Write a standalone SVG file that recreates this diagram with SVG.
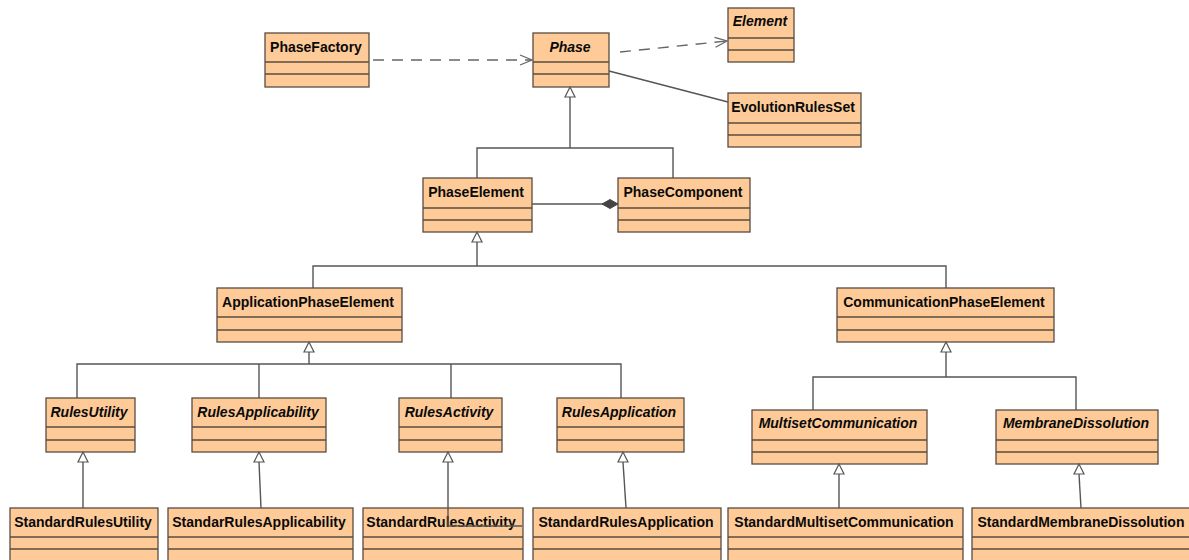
<svg xmlns="http://www.w3.org/2000/svg" width="1189" height="560" viewBox="0 0 1189 560">
<defs>
<style>
.box rect{fill:#FECB98;stroke:#5a4c40;stroke-width:1.3}
.box line{stroke:#5a4c40;stroke-width:1.3}
.t{font-family:"Liberation Sans",Arial,sans-serif;font-size:14px;font-weight:bold;fill:#0a0a0a;text-anchor:middle}
.i{font-style:italic}
.c{fill:none;stroke:#555;stroke-width:1.4}
.d{fill:none;stroke:#666;stroke-width:1.4;stroke-dasharray:11 8}
.g{fill:#fff;stroke:#555;stroke-width:1.2}
</style>
<marker id="open" markerWidth="14" markerHeight="12" refX="13" refY="6" orient="auto" markerUnits="userSpaceOnUse">
<path d="M1,1 L13,6 L1,11" fill="none" stroke="#666" stroke-width="1.3"/>
</marker>
</defs>
<rect width="1189" height="560" fill="#fff"/>

<g id="PhaseFactory" class="box"><rect x="265" y="33" width="104" height="54"/><line x1="265" y1="62" x2="369" y2="62"/><line x1="265" y1="74" x2="369" y2="74"/><text class="t" x="316" y="52">PhaseFactory</text></g>
<g id="Phase" class="box"><rect x="533" y="33" width="76" height="54"/><line x1="533" y1="62" x2="609" y2="62"/><line x1="533" y1="74" x2="609" y2="74"/><text class="t i" x="570" y="52">Phase</text></g>
<g id="Element" class="box"><rect x="728" y="8" width="66" height="54"/><line x1="728" y1="38" x2="794" y2="38"/><line x1="728" y1="50" x2="794" y2="50"/><text class="t i" x="760" y="26">Element</text></g>
<g id="EvolutionRulesSet" class="box"><rect x="728" y="93" width="133" height="54"/><line x1="728" y1="123" x2="861" y2="123"/><line x1="728" y1="135" x2="861" y2="135"/><text class="t" x="793" y="112">EvolutionRulesSet</text></g>
<g id="PhaseElement" class="box"><rect x="423" y="178" width="109" height="54"/><line x1="423" y1="208" x2="532" y2="208"/><line x1="423" y1="220" x2="532" y2="220"/><text class="t" x="476" y="197">PhaseElement</text></g>
<g id="PhaseComponent" class="box"><rect x="618" y="178" width="132" height="54"/><line x1="618" y1="208" x2="750" y2="208"/><line x1="618" y1="220" x2="750" y2="220"/><text class="t" x="683" y="197">PhaseComponent</text></g>
<g id="ApplicationPhaseElement" class="box"><rect x="217" y="288" width="185" height="54"/><line x1="217" y1="317" x2="402" y2="317"/><line x1="217" y1="330" x2="402" y2="330"/><text class="t" x="308" y="307">ApplicationPhaseElement</text></g>
<g id="CommunicationPhaseElement" class="box"><rect x="837" y="288" width="217" height="54"/><line x1="837" y1="317" x2="1054" y2="317"/><line x1="837" y1="330" x2="1054" y2="330"/><text class="t" x="944" y="307">CommunicationPhaseElement</text></g>
<g id="RulesUtility" class="box"><rect x="46" y="398" width="89" height="54"/><line x1="46" y1="427" x2="135" y2="427"/><line x1="46" y1="440" x2="135" y2="440"/><text class="t i" x="89" y="417">RulesUtility</text></g>
<g id="RulesApplicability" class="box"><rect x="192" y="398" width="134" height="54"/><line x1="192" y1="427" x2="326" y2="427"/><line x1="192" y1="440" x2="326" y2="440"/><text class="t i" x="258" y="417">RulesApplicability</text></g>
<g id="RulesActivity" class="box"><rect x="399" y="398" width="103" height="54"/><line x1="399" y1="427" x2="502" y2="427"/><line x1="399" y1="440" x2="502" y2="440"/><text class="t i" x="449" y="417">RulesActivity</text></g>
<g id="RulesApplication" class="box"><rect x="557" y="398" width="127" height="54"/><line x1="557" y1="427" x2="684" y2="427"/><line x1="557" y1="440" x2="684" y2="440"/><text class="t i" x="619" y="417">RulesApplication</text></g>
<g id="MultisetCommunication" class="box"><rect x="752" y="410" width="175" height="54"/><line x1="752" y1="440" x2="927" y2="440"/><line x1="752" y1="452" x2="927" y2="452"/><text class="t i" x="838" y="428">MultisetCommunication</text></g>
<g id="MembraneDissolution" class="box"><rect x="996" y="410" width="162" height="54"/><line x1="996" y1="440" x2="1158" y2="440"/><line x1="996" y1="452" x2="1158" y2="452"/><text class="t i" x="1076" y="428">MembraneDissolution</text></g>
<g id="StandardRulesUtility" class="box"><rect x="10" y="508" width="148" height="56"/><line x1="10" y1="537" x2="158" y2="537"/><line x1="10" y1="549" x2="158" y2="549"/><text class="t" x="83" y="527">StandardRulesUtility</text></g>
<g id="StandarRulesApplicability" class="box"><rect x="168" y="508" width="185" height="56"/><line x1="168" y1="537" x2="353" y2="537"/><line x1="168" y1="549" x2="353" y2="549"/><text class="t" x="259" y="527">StandarRulesApplicability</text></g>
<g id="StandardRulesActivity" class="box"><rect x="363" y="508" width="160" height="56"/><line x1="363" y1="537" x2="523" y2="537"/><line x1="363" y1="549" x2="523" y2="549"/><text class="t" x="441" y="527">StandardRulesActivity</text></g>
<g id="StandardRulesApplication" class="box"><rect x="533" y="508" width="188" height="56"/><line x1="533" y1="537" x2="721" y2="537"/><line x1="533" y1="549" x2="721" y2="549"/><text class="t" x="626" y="527">StandardRulesApplication</text></g>
<g id="StandardMultisetCommunication" class="box"><rect x="728" y="508" width="235" height="56"/><line x1="728" y1="537" x2="963" y2="537"/><line x1="728" y1="549" x2="963" y2="549"/><text class="t" x="844" y="527">StandardMultisetCommunication</text></g>
<g id="StandardMembraneDissolution" class="box"><rect x="972" y="508" width="222" height="56"/><line x1="972" y1="537" x2="1194" y2="537"/><line x1="972" y1="549" x2="1194" y2="549"/><text class="t" x="1081" y="527">StandardMembraneDissolution</text></g>

<g id="connectors">
<line class="d" x1="373" y1="60" x2="532" y2="60" marker-end="url(#open)"/>
<line class="d" x1="620" y1="52" x2="727" y2="41" marker-end="url(#open)"/>
<line class="c" x1="609" y1="71" x2="728" y2="102"/>
<polyline class="c" points="570,97 570,148"/>
<polyline class="c" points="477,178 477,148 673,148 673,178"/>
<polygon class="g" points="570,87 565,97 575,97"/>
<line class="c" x1="532" y1="204" x2="603" y2="204"/>
<polygon points="618,204 610,199.5 602,204 610,208.5" fill="#444" stroke="#444" stroke-width="1"/>
<polyline class="c" points="477,242 477,266"/>
<polyline class="c" points="313,288 313,266 946,266 946,288"/>
<polygon class="g" points="477,232 472,242 482,242"/>
<polyline class="c" points="309,352 309,364"/>
<polyline class="c" points="77,398 77,364 621,364 621,398"/>
<line class="c" x1="259" y1="364" x2="259" y2="398"/>
<line class="c" x1="451" y1="364" x2="451" y2="398"/>
<polygon class="g" points="309,342 304,352 314,352"/>
<polyline class="c" points="946,352 946,377"/>
<polyline class="c" points="813,410 813,377 1076,377 1076,410"/>
<polygon class="g" points="946,342 941,352 951,352"/>
<line class="c" x1="83" y1="462" x2="83" y2="508"/>
<polygon class="g" points="83,452 78,462 88,462"/>
<line class="c" x1="259" y1="462" x2="261" y2="508"/>
<polygon class="g" points="259,452 254,462 264,462"/>
<polyline class="c" points="448,462 448,526 522,526"/>
<polygon class="g" points="448,452 443,462 453,462"/>
<line class="c" x1="623" y1="462" x2="626" y2="508"/>
<polygon class="g" points="623,452 618,462 628,462"/>
<line class="c" x1="839" y1="474" x2="839" y2="508"/>
<polygon class="g" points="839,464 834,474 844,474"/>
<line class="c" x1="1079" y1="474" x2="1081" y2="508"/>
<polygon class="g" points="1079,464 1074,474 1084,474"/>
</g>
</svg>
